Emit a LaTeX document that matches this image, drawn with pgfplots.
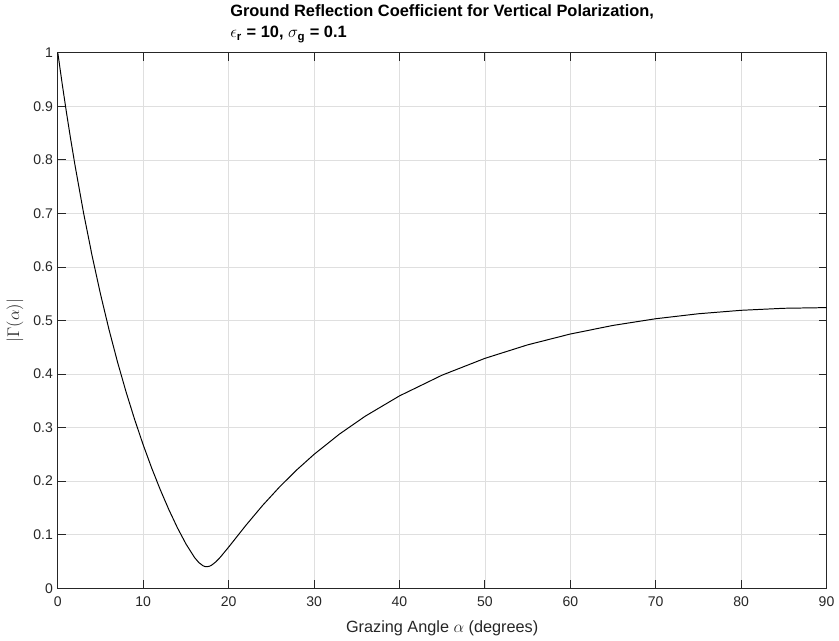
\documentclass[border=0pt]{standalone}
\usepackage{amsmath}
\usepackage{fontspec}
\setmainfont{Liberation Sans}
\usepackage{pgfplots}
\pgfplotsset{compat=1.18}
\definecolor{axisgrey}{HTML}{262626}
\definecolor{gridgrey}{HTML}{DFDFDF}
\begin{document}
\begin{tikzpicture}
\begin{axis}[scale only axis,width=192.75mm,height=134.25mm,
  xmin=0,xmax=90,ymin=0,ymax=1,
  xtick={0,10,20,30,40,50,60,70,80,90},
  ytick={0,0.1,0.2,0.3,0.4,0.5,0.6,0.7,0.8,0.9,1},
  grid=major,grid style={gridgrey,line width=0.5pt},
  axis line style={axisgrey,line width=0.7pt},
  tick style={axisgrey,line width=0.7pt},major tick length=2mm,tick align=inside,
  /pgf/number format/assume math mode=true,
  yticklabel style={/pgf/number format/fixed},
  xticklabel style={yshift=-1mm},
  tick label style={font=\fontsize{10}{12}\selectfont,text=axisgrey},
  xlabel={Grazing Angle $\alpha$ (degrees)},
  ylabel={$|\Gamma(\alpha)|$},
  label style={font=\fontsize{11.6}{13}\selectfont,text=axisgrey},
  xlabel style={at={(axis description cs:0.5,0)},anchor=north,inner sep=0pt,yshift=-8mm},
  ylabel style={at={(axis description cs:-0.0558,0.5)},anchor=center,inner sep=0pt},
  title={Ground Reflection Coefficient for Vertical Polarization,\\$\epsilon_{\textbf{r}}$ = 10, $\sigma_{\textbf{g}}$ = 0.1},
  title style={at={(axis description cs:0.5,1)},anchor=south,inner sep=0pt,yshift=0.3mm,
    align=left,font=\bfseries\fontsize{11.7}{15.6}\selectfont},
  clip=false]
\addplot[black,line width=0.7pt] coordinates {
(0,1) (0.5,0.94330) (1,0.88974) (1.5,0.83907) (2,0.79106) (3,0.70226) (4,0.62197)
(5,0.54907) (6,0.48263) (7,0.42187) (8,0.36613) (9,0.31487) (10,0.26763)
(11,0.22405) (12,0.18384) (13,0.14683) (14,0.11300) (15,0.08276) (16,0.05756)
(16.5,0.04808) (17,0.04195) (17.25,0.04050) (17.5,0.04024) (17.75,0.04113)
(18,0.04305) (18.5,0.04928) (19,0.05756) (20,0.07685) (22,0.11715) (24,0.15515)
(26,0.18987) (28,0.22142) (30,0.25007) (33,0.28824) (36,0.32144) (40,0.35926)
(45,0.39807) (50,0.42935) (55,0.45457) (60,0.47482) (65,0.49089) (70,0.50336)
(75,0.51267) (80,0.51911) (85,0.52290) (90,0.52415)};
\coordinate (ll) at (rel axis cs:0,0);
\end{axis}
\path[use as bounding box] ([shift={(-14.5mm,-13mm)}]ll) rectangle ++(209.75mm,160.5mm);
\end{tikzpicture}
\end{document}
